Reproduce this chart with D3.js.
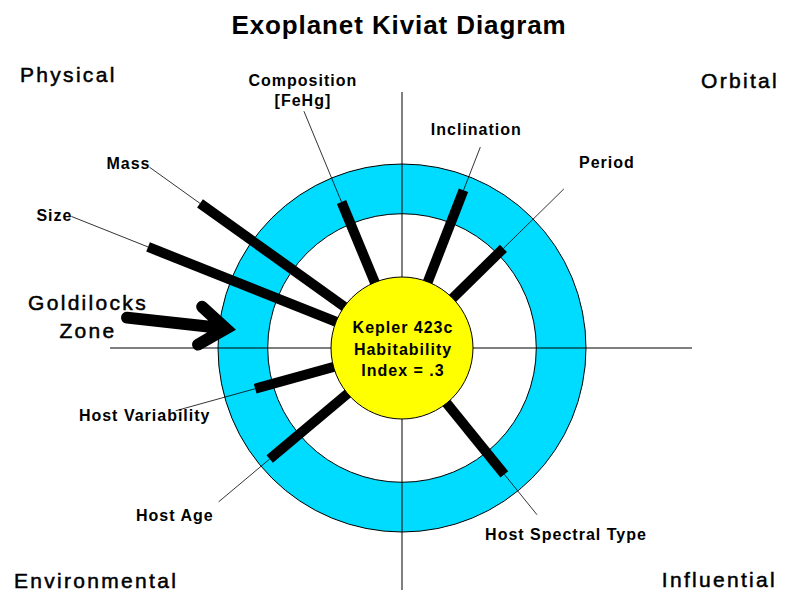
<!DOCTYPE html>
<html>
<head>
<meta charset="utf-8">
<script src="https://cdn.jsdelivr.net/npm/d3@7"></script>
<style>
  body { margin: 0; background: #fff; }
  svg text { font-family: Arial, "Liberation Sans", sans-serif; fill: #000; }
</style>
</head>
<body>
<div id="chart"></div>
<script>
// spokes of the kiviat, clockwise from the top
const spokes = ["Composition", "Inclination", "Period", "Host Spectral Type", "Host Age", "Host Variability", "Size", "Mass"];
const spokeLabels = [["Composition", "[FeHg]"], ["Inclination"], ["Period"], ["Host Spectral Type"], ["Host Age"], ["Host Variability"], ["Size"], ["Mass"]];
const spokeAngles = [112.5, 68.7, 44.5, -51, 220, 195.5, 158.3, 144.4]; // degrees, ccw from east
const spokeValues = [0.77, 0.87, 0.63, 0.81, 0.90, 0.72, 1.79, 1.57];
const goldilocksZone = [0.56, 1.0];
const quadrants = ["Physical", "Orbital", "Environmental", "Influential"];
const centerLines = ["Kepler 423c", "Habitability", "Index = .3"];
const title = "Exoplanet Kiviat Diagram";

// where the leader lines end (same value units) and how labels sit at their end
const leaderReach = [1.64, 1.28, 1.38, 1.27, 1.49, 1.45, 2.52, 2.12];
const labelPlace = [
  {anchor: "middle", dx: -1, dy: -25},
  {anchor: "middle", dx: -4, dy: -12},
  {anchor: "middle", dx: 43, dy: -21},
  {anchor: "middle", dx: 29, dy: 25},
  {anchor: "end", dx: -5, dy: 19},
  {anchor: "middle", dx: -31, dy: 10},
  {anchor: "end", dx: 1, dy: 5},
  {anchor: "end", dx: 1, dy: 2}
];

const width = 794, height = 595;
const cx = 402, cy = 348;
const coreR = 71;

const svg = d3.select("#chart").append("svg")
    .attr("width", width)
    .attr("height", height);

const r = d3.scaleLinear().domain([0, 1]).range([coreR, 184]);

function polar(deg, radius) {
    const a = deg * Math.PI / 180;
    return [cx + radius * Math.cos(a), cy - radius * Math.sin(a)];
}

svg.append("text")
    .attr("x", 399).attr("y", 34)
    .attr("text-anchor", "middle")
    .attr("font-size", 26).attr("font-weight", "bold")
    .attr("letter-spacing", 0.9)
    .text(title);

// goldilocks ring
svg.append("circle")
    .attr("cx", cx).attr("cy", cy).attr("r", r(goldilocksZone[1]))
    .attr("fill", "#00dcff").attr("stroke", "#000").attr("stroke-width", 1);
svg.append("circle")
    .attr("cx", cx).attr("cy", cy).attr("r", r(goldilocksZone[0]))
    .attr("fill", "#fff").attr("stroke", "#000").attr("stroke-width", 1);

// quadrant axes
svg.append("line").attr("x1", cx).attr("x2", cx).attr("y1", 92).attr("y2", 590)
    .attr("stroke", "#000").attr("stroke-width", 1);
svg.append("line").attr("x1", 110).attr("x2", 692).attr("y1", cy).attr("y2", cy)
    .attr("stroke", "#000").attr("stroke-width", 1);

const idx = d3.range(spokes.length);

// leader lines
svg.append("g").selectAll("line")
    .data(idx)
    .enter()
    .append("line")
    .attr("x1", i => polar(spokeAngles[i], r(spokeValues[i]))[0])
    .attr("y1", i => polar(spokeAngles[i], r(spokeValues[i]))[1])
    .attr("x2", i => polar(spokeAngles[i], r(leaderReach[i]))[0])
    .attr("y2", i => polar(spokeAngles[i], r(leaderReach[i]))[1])
    .attr("stroke", "#000").attr("stroke-width", 0.8);

// value bars
svg.append("g").selectAll("line")
    .data(idx)
    .enter()
    .append("line")
    .attr("x1", cx).attr("y1", cy)
    .attr("x2", i => polar(spokeAngles[i], r(spokeValues[i]))[0])
    .attr("y2", i => polar(spokeAngles[i], r(spokeValues[i]))[1])
    .attr("stroke", "#000").attr("stroke-width", 10);

// planet core
svg.append("circle")
    .attr("cx", cx).attr("cy", cy).attr("r", coreR)
    .attr("fill", "#ffff00").attr("stroke", "#000").attr("stroke-width", 1);

svg.append("g").selectAll("text")
    .data(centerLines)
    .enter()
    .append("text")
    .attr("x", cx + 1)
    .attr("y", (d, i) => 333 + i * 21.5)
    .attr("text-anchor", "middle")
    .attr("font-size", 16).attr("font-weight", "bold")
    .attr("letter-spacing", 1)
    .text(d => d);

// spoke labels
const lab = svg.append("g").selectAll("text")
    .data(idx)
    .enter()
    .append("text")
    .attr("text-anchor", i => labelPlace[i].anchor)
    .attr("font-size", 16).attr("font-weight", "bold")
    .attr("letter-spacing", 1);

lab.selectAll("tspan")
    .data(i => spokeLabels[i].map(t => ({t, i})))
    .enter()
    .append("tspan")
    .attr("x", d => polar(spokeAngles[d.i], r(leaderReach[d.i]))[0] + labelPlace[d.i].dx)
    .attr("y", (d, k) => polar(spokeAngles[d.i], r(leaderReach[d.i]))[1] + labelPlace[d.i].dy + k * 20)
    .text(d => d.t);

// goldilocks arrow, pointing radially into the ring
const arrowAngle = 173.7;
const tip = polar(arrowAngle, r(d3.mean(goldilocksZone)) + 18);
const tail = polar(arrowAngle, r(1.82));
const len = Math.hypot(tail[0] - tip[0], tail[1] - tip[1]);
const ux = (tail[0] - tip[0]) / len, uy = (tail[1] - tip[1]) / len;
const barb = (back, side) => [tip[0] + ux * back - uy * side, tip[1] + uy * back + ux * side];
svg.append("path")
    .attr("d", d3.line()([tail, tip]) + d3.line()([barb(26, 19), tip, barb(26, -19)]))
    .attr("fill", "none").attr("stroke", "#000").attr("stroke-width", 12)
    .attr("stroke-linecap", "round").attr("stroke-linejoin", "miter");

const gold = svg.append("text")
    .attr("text-anchor", "middle")
    .attr("font-size", 21).attr("letter-spacing", 2.3)
    .attr("stroke", "#000").attr("stroke-width", 0.5);
gold.append("tspan").attr("x", 88).attr("y", 310).text("Goldilocks");
gold.append("tspan").attr("x", 88).attr("y", 338).text("Zone");

// quadrant names
const quadPos = [
  {x: 20, y: 82, anchor: "start"},
  {x: 779, y: 88, anchor: "end"},
  {x: 14, y: 588, anchor: "start"},
  {x: 777, y: 587, anchor: "end"}
];
svg.append("g").selectAll("text")
    .data(quadrants)
    .enter()
    .append("text")
    .attr("x", (d, i) => quadPos[i].x)
    .attr("y", (d, i) => quadPos[i].y)
    .attr("text-anchor", (d, i) => quadPos[i].anchor)
    .attr("font-size", 21).attr("letter-spacing", 2.3)
    .attr("stroke", "#000").attr("stroke-width", 0.5)
    .text(d => d);
</script>
</body>
</html>
